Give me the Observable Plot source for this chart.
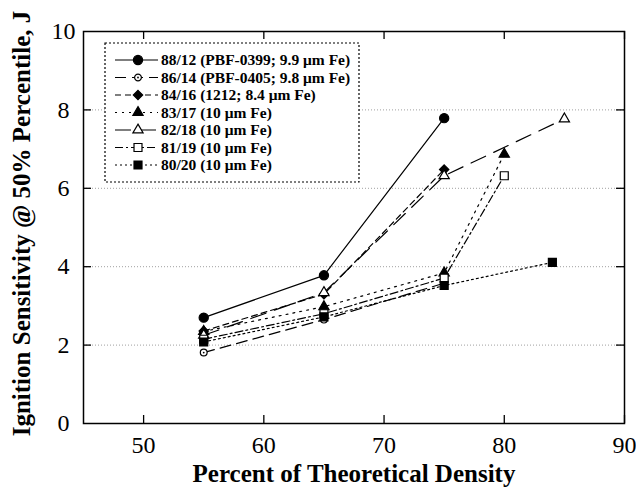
<!DOCTYPE html>
<html><head><meta charset="utf-8">
<script src="https://cdn.jsdelivr.net/npm/d3@7"></script>
<script src="https://cdn.jsdelivr.net/npm/@observablehq/plot@0.6"></script>
<style>body{margin:0;background:#fff} svg{display:block}</style>
</head><body><div id="chart"></div>
<script>
// ---- data ----
const seriesLabels = [
  "88/12 (PBF-0399; 9.9 \u03bcm Fe)",
  "86/14 (PBF-0405; 9.8 \u03bcm Fe)",
  "84/16 (1212; 8.4 \u03bcm Fe)",
  "83/17 (10 \u03bcm Fe)",
  "82/18 (10 \u03bcm Fe)",
  "81/19 (10 \u03bcm Fe)",
  "80/20 (10 \u03bcm Fe)"
];
const s8812 = [[55, 2.70], [65, 3.78], [75, 7.79]];
const s8614 = [[55, 1.81], [65, 2.65], [75, 3.58]];
const s8416 = [[55, 2.36], [65, 3.30], [75, 6.48]];
const s8317 = [[55, 2.35], [65, 2.98], [75, 3.84], [80, 6.87]];
const s8218 = [[55, 2.25], [65, 3.34], [75, 6.32], [85, 7.77]];
const s8119 = [[55, 2.15], [65, 2.80], [75, 3.71], [80, 6.32]];
const s8020 = [[55, 2.08], [65, 2.72], [75, 3.52], [84, 4.11]];
const seriesData = [s8812, s8614, s8416, s8317, s8218, s8119, s8020];
const xTicks = [50, 60, 70, 80, 90];
const yTicks = [0, 2, 4, 6, 8, 10];
const yGrid = [2, 4, 6, 8];
const xLabel = "Percent of Theoretical Density";
const yLabel = "Ignition Sensitivity @ 50% Percentile, J";

// ---- styles ----
const styles = [
  {dash: null,        symbol: "circle",   fill: "black", r: 4.6},
  {dash: "11,6",      symbol: "circle",   fill: "white", r: 3.4, centerDot: true},
  {dash: "6,4",       symbol: "diamond2", fill: "black", r: 4.2},
  {dash: "2,5",       symbol: "triangle", fill: "black", r: 3.8},
  {dash: "16,9",      symbol: "triangle", fill: "white", r: 3.8},
  {dash: "8,3,2,3",   symbol: "square",   fill: "white", r: 4.5},
  {dash: "2,3",       symbol: "square",   fill: "black", r: 4.5}
];

const W = 636, H = 489;
const mL = 83, mR = 12, mT = 31, mB = 66;
const innerW = W - mL - mR, innerH = H - mT - mB;
const serif = "'Liberation Serif', 'Times New Roman', Times, serif";

const rows = seriesData.flatMap((arr, i) => arr.map(([x, y]) => ({series: i, x, y})));

const marks = [
  Plot.ruleY(yGrid, {y: d => d, stroke: "#a0a0a0", strokeWidth: 1, strokeDasharray: "1,2"}),
  Plot.tickX(xTicks, {x: d => d, insetTop: innerH - 8, stroke: "black", strokeWidth: 1.3}),
  Plot.tickX(xTicks, {x: d => d, insetBottom: innerH - 8, stroke: "black", strokeWidth: 1.3}),
  Plot.tickY(yGrid, {y: d => d, insetRight: innerW - 8, stroke: "black", strokeWidth: 1.3}),
  Plot.tickY(yGrid, {y: d => d, insetLeft: innerW - 8, stroke: "black", strokeWidth: 1.3}),
  Plot.frame({stroke: "black", strokeWidth: 1.5}),
  Plot.text(xTicks, {x: d => d, text: d => String(d), frameAnchor: "bottom", dy: 29,
    fontSize: 24, fontFamily: serif, fill: "black"}),
  Plot.text(yTicks, {y: d => d, text: d => String(d), frameAnchor: "left", dx: -20,
    textAnchor: "middle", fontSize: 24, fontFamily: serif, fill: "black"}),
  Plot.text([xLabel], {text: d => d, frameAnchor: "bottom", dy: 58, fontSize: 25,
    textAnchor: "middle", fontWeight: "bold", fontFamily: serif, fill: "black"}),
  Plot.text([yLabel], {text: d => d, frameAnchor: "left", dx: -62, dy: -4, rotate: -90, fontSize: 25,
    textAnchor: "middle", fontWeight: "bold", fontFamily: serif, fill: "black"})
];

styles.forEach((st, i) => {
  const d = rows.filter(r => r.series === i);
  marks.push(Plot.line(d, {x: "x", y: "y", stroke: "black", strokeWidth: 1.2,
    strokeDasharray: st.dash}));
});
styles.forEach((st, i) => {
  const d = rows.filter(r => r.series === i);
  marks.push(Plot.dot(d, {x: "x", y: "y", symbol: st.symbol, r: st.r, fill: st.fill,
    stroke: "black", strokeWidth: 1.2}));
  if (st.centerDot) marks.push(Plot.dot(d, {x: "x", y: "y", r: 0.9, fill: "black"}));
});

const chart = Plot.plot({
  width: W, height: H,
  marginLeft: mL, marginRight: mR, marginTop: mT, marginBottom: mB,
  x: {domain: [45, 90], axis: null},
  y: {domain: [0, 10], axis: null},
  style: {background: "white", overflow: "visible"},
  marks
});
document.getElementById("chart").append(chart);

// ---- legend (inside the frame, top-left) ----
const svg = d3.select(chart);
const lg = svg.append("g");
const lx = 105, ly = 43, lw = 254, lh = 139;
lg.append("rect").attr("x", lx).attr("y", ly).attr("width", lw).attr("height", lh)
  .attr("fill", "white").attr("stroke", "black").attr("stroke-width", 1.2)
  .attr("stroke-dasharray", "2,2");
const symMap = {circle: d3.symbolCircle, diamond2: d3.symbolDiamond2, triangle: d3.symbolTriangle, square: d3.symbolSquare};
seriesLabels.forEach((lab, i) => {
  const st = styles[i];
  const cy = ly + 17 + i * 17.5;
  lg.append("line").attr("x1", lx + 10).attr("x2", lx + 53).attr("y1", cy).attr("y2", cy)
    .attr("stroke", "black").attr("stroke-width", 1.2)
    .attr("stroke-dasharray", st.dash);
  lg.append("path").attr("d", d3.symbol(symMap[st.symbol], st.r * st.r * Math.PI)())
    .attr("transform", `translate(${lx + 33},${cy})`)
    .attr("fill", st.fill).attr("stroke", "black").attr("stroke-width", 1.2);
  if (st.centerDot) lg.append("circle").attr("cx", lx + 33).attr("cy", cy).attr("r", 0.9).attr("fill", "black");
  lg.append("text").attr("x", lx + 56).attr("y", cy).attr("dy", "0.35em")
    .attr("text-anchor", "start")
    .attr("font-family", serif).attr("font-weight", "bold").attr("font-size", 15.5)
    .attr("fill", "black").text(lab);
});
</script>
</body></html>
